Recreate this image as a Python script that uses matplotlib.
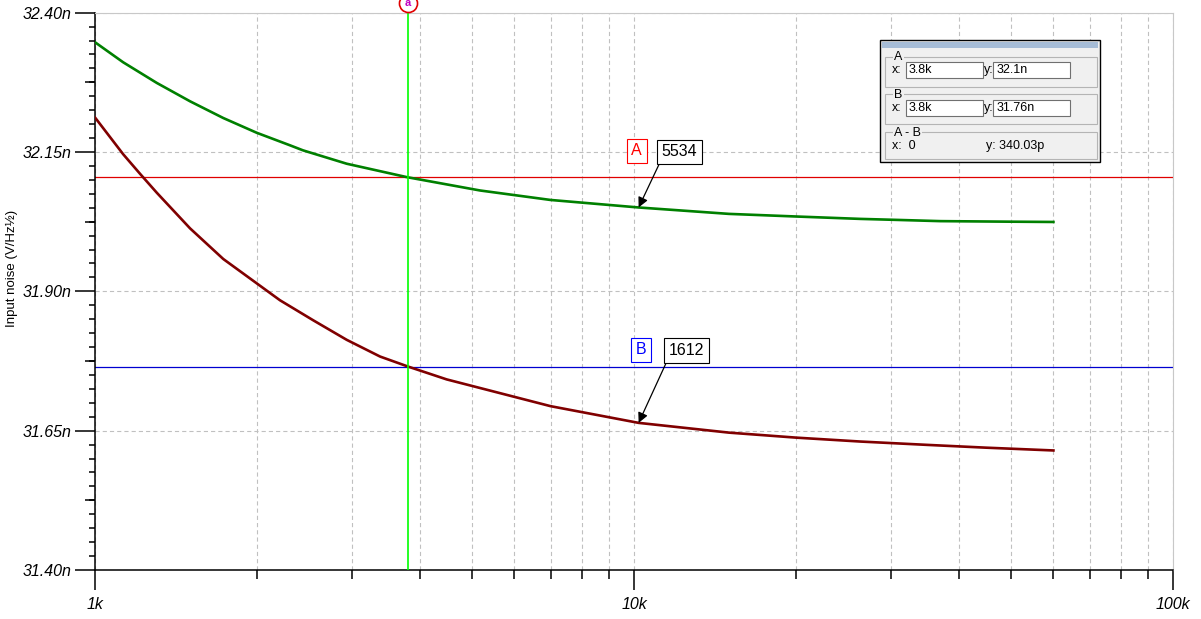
import matplotlib
matplotlib.use("Agg")
import matplotlib.pyplot as plt
import matplotlib.patches as mpatches
from matplotlib.ticker import LogLocator, NullFormatter, MultipleLocator
import numpy as np

plt.rcParams["font.family"] = ["Liberation Sans", "DejaVu Sans"]
plt.rcParams["lines.scale_dashes"] = False

# input noise vs frequency (Hz, nV/rtHz)
freq_5534 = [1000, 1128, 1302, 1501, 1730, 1996, 2301, 2432, 2931, 3787, 5180, 7000,
             10200, 15000, 20000, 26300, 30000, 37000, 50000, 60000]
noise_5534 = [32.347, 32.311, 32.274, 32.241, 32.211, 32.1845, 32.162, 32.153, 32.129, 32.105,
              32.081, 32.064, 32.0505, 32.039, 32.0343, 32.030, 32.0285, 32.026, 32.025, 32.0245]

freq_1612 = [1000, 1128, 1212, 1302, 1501, 1730, 2204, 2541, 2931, 3380, 3810, 4492,
             7000, 10200, 15000, 20000, 26300, 35000, 45000, 60000]
noise_1612 = [32.212, 32.146, 32.111, 32.077, 32.013, 31.958, 31.884, 31.848, 31.813, 31.783,
              31.765, 31.742, 31.694, 31.664, 31.6465, 31.6375, 31.6305, 31.6245, 31.6195, 31.6145]

x_major = [1e3, 1e4, 1e5]
x_labels = ["1k", "10k", "100k"]
y_major = [31.40, 31.65, 31.90, 32.15, 32.40]
y_labels = ["31.40n", "31.65n", "31.90n", "32.15n", "32.40n"]
y_half = [31.525, 31.775, 32.025, 32.275]

cursor_x = 3800
cursor_a = 32.105
cursor_b = 31.765
marker_freq = 10200

readout_a = ("3.8k", "32.1n")
readout_b = ("3.8k", "31.76n")
readout_diff = ("0", "340.03p")

W, H = 1201, 619
fig = plt.figure(figsize=(W / 100, H / 100), dpi=100)
ax = fig.add_axes([95 / W, 49 / H, 1078 / W, 557.3 / H])

ax.set_xscale("log")
ax.set_xlim(1e3, 1e5)
ax.set_ylim(31.40, 32.40)

# grid
grid_kw = dict(color="#c0c0c0", linewidth=0.8, linestyle=(0, (3, 2.2)))
ax.xaxis.grid(True, which="both", **grid_kw)
ax.yaxis.grid(True, which="major", **grid_kw)
ax.set_axisbelow(True)

# curves
ax.plot(freq_5534, noise_5534, color="#008000", linewidth=1.9, zorder=3)
ax.plot(freq_1612, noise_1612, color="#800000", linewidth=1.9, zorder=3)

# cursors
ax.axhline(cursor_a, color="#e00000", linewidth=0.9, zorder=2)
ax.axhline(cursor_b, color="#0000d0", linewidth=0.9, zorder=2)
ax.axvline(cursor_x, color="#00ff00", linewidth=1.2, zorder=4)
ax.plot([cursor_x], [1.017], transform=ax.get_xaxis_transform(), marker="o",
        markersize=13, markerfacecolor="white", markeredgecolor="#e00000",
        markeredgewidth=1.2, clip_on=False, zorder=6)
ax.text(cursor_x, 1.017, "a", transform=ax.get_xaxis_transform(), color="#c000c0",
        fontsize=8, fontweight="bold", ha="center", va="center", clip_on=False, zorder=7)

# ticks
ax.set_xticks(x_major, x_labels, fontstyle="italic", fontsize=11.5)
ax.xaxis.set_minor_locator(LogLocator(base=10, subs=np.arange(2, 10)))
ax.xaxis.set_minor_formatter(NullFormatter())
ax.set_yticks(y_major, y_labels, fontstyle="italic", fontsize=11.5)
ax.yaxis.set_minor_locator(MultipleLocator(0.025))
ax.tick_params(axis="x", which="major", length=14.4, width=1.1, pad=5, colors="black")
ax.tick_params(axis="x", which="minor", length=6.5, width=1.1)
ax.tick_params(axis="y", which="major", length=14.2, width=1.1, pad=2.8)
ax.tick_params(axis="y", which="minor", length=4.0, width=1.1)

sec = ax.secondary_yaxis("left")
sec.set_yticks(y_half)
sec.set_yticklabels([])
sec.tick_params(axis="y", which="major", length=7.2, width=1.1)
sec.tick_params(axis="y", which="minor", length=0)
sec.spines["left"].set_visible(False)

for side in ("left", "bottom"):
    ax.spines[side].set_color("black")
    ax.spines[side].set_linewidth(1.1)
for side in ("top", "right"):
    ax.spines[side].set_color("#c8c8c8")
    ax.spines[side].set_linewidth(0.8)

fig.text(12 / W, 1 - 268 / H, "Input noise (V/Hz½)", rotation=90, ha="center", va="center",
         fontsize=9.5)

# curve labels
logf = np.log10(marker_freq)
y_a = np.interp(logf, np.log10(freq_5534), noise_5534)
y_b = np.interp(logf, np.log10(freq_1612), noise_1612)

box_black = dict(boxstyle="square,pad=0.3", fc="white", ec="black", lw=0.8)
arrow_kw = dict(arrowstyle="-|>", color="black", lw=0.9, relpos=(0, 0),
                shrinkA=0, shrinkB=0, mutation_scale=15)

ax.annotate("5534", xy=(marker_freq, y_a), xytext=(29.2, 40), textcoords="offset points",
            ha="center", va="center", fontsize=11.5, bbox=box_black, arrowprops=arrow_kw,
            zorder=8)
ax.annotate("A", xy=(marker_freq, y_a), xytext=(-1.4, 40.7), textcoords="offset points",
            ha="center", va="center", fontsize=11.5, color="#ff0000",
            bbox=dict(boxstyle="square,pad=0.3", fc="white", ec="#ff0000", lw=0.8), zorder=8)
ax.annotate("1612", xy=(marker_freq, y_b), xytext=(34.2, 52.2), textcoords="offset points",
            ha="center", va="center", fontsize=11.5, bbox=box_black, arrowprops=arrow_kw,
            zorder=8)
ax.annotate("B", xy=(marker_freq, y_b), xytext=(1.8, 52.6), textcoords="offset points",
            ha="center", va="center", fontsize=11.5, color="#0000ff",
            bbox=dict(boxstyle="square,pad=0.3", fc="white", ec="#0000ff", lw=0.8), zorder=8)

# cursor readout panel (pixel overlay)
ov = fig.add_axes([0, 0, 1, 1], zorder=10)
ov.set_xlim(0, W)
ov.set_ylim(H, 0)
ov.axis("off")
ov.patch.set_alpha(0)

ov.add_patch(mpatches.Rectangle((880, 40), 220, 121.5, facecolor="#f0f0f0", edgecolor="black", lw=1))
ov.add_patch(mpatches.Rectangle((882, 42.3), 216, 6, facecolor="#a6bcd6", edgecolor="none"))

panel_font = dict(fontsize=9, va="center")


def group(y0, h, title):
    ov.add_patch(mpatches.Rectangle((885, y0), 211.7, h, facecolor="none", edgecolor="#b4b4b4", lw=0.8))
    ov.text(894, y0 + 0.5, title, ha="left",
            bbox=dict(boxstyle="square,pad=0.1", fc="#f0f0f0", ec="none"), **panel_font)


def field_row(yc, xval, yval):
    ov.text(892, yc, "x:", ha="left", **panel_font)
    ov.text(984, yc, "y:", ha="left", **panel_font)
    for x0, val in ((906, xval), (993.3, yval)):
        ov.add_patch(mpatches.Rectangle((x0, yc - 8), 76.7, 16, facecolor="white",
                                        edgecolor="#707070", lw=0.8))
        ov.text(x0 + 3, yc, val, ha="left", **panel_font)


group(56.7, 30, "A")
field_row(70.3, *readout_a)
group(94.3, 30, "B")
field_row(108.3, *readout_b)
group(132.3, 27, "A - B")
ov.text(892, 145.7, "x:  " + readout_diff[0], ha="left", **panel_font)
ov.text(986, 145.7, "y: " + readout_diff[1], ha="left", **panel_font)

fig.savefig("out.png", dpi=100)
